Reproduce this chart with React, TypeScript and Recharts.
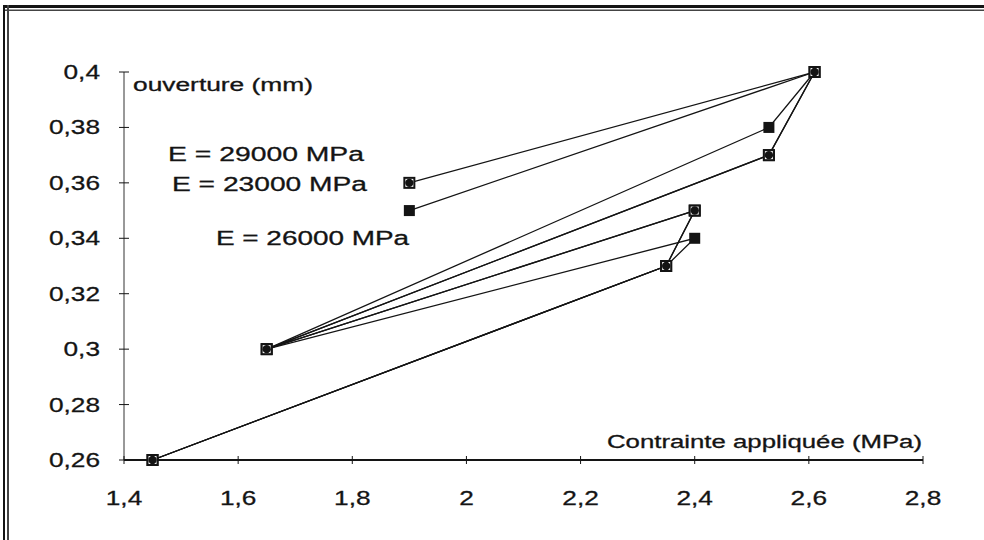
import { Scatter, ScatterChart, XAxis, YAxis } from "recharts";

// applied stress (MPa) / crack opening (mm), in loading order
const stress29000 = [1.45, 2.35, 2.4, 1.65, 2.53, 2.61, 1.9];
const opening29000 = [0.26, 0.33, 0.35, 0.3, 0.37, 0.4, 0.36];

const stress23000 = [1.45, 2.35, 2.4, 1.65, 2.53, 2.61, 1.9];
const opening23000 = [0.26, 0.33, 0.34, 0.3, 0.38, 0.4, 0.35];

const stress26000 = [1.45, 2.35, 2.4, 1.65, 2.53, 2.61];
const opening26000 = [0.26, 0.33, 0.35, 0.3, 0.37, 0.4];

const xTicks = [1.4, 1.6, 1.8, 2, 2.2, 2.4, 2.6, 2.8];
const yTicks = [0.26, 0.28, 0.3, 0.32, 0.34, 0.36, 0.38, 0.4];

const FONT = "'Liberation Sans', Arial, sans-serif";
const INK = "#141414";

const toPoints = (xs: number[], ys: number[]) => xs.map((x, i) => ({ x, y: ys[i] }));

const fmt = (v: number) => String(v).replace(".", ",");

const FilledSquare = (props: any) => {
  const { cx, cy } = props;
  if (cx == null || cy == null) return null;
  return <rect x={cx - 5.5} y={cy - 5.5} width={11} height={11} fill={INK} />;
};

const HatchedSquare = (props: any) => {
  const { cx, cy } = props;
  if (cx == null || cy == null) return null;
  return (
    <g>
      <rect x={cx - 6} y={cy - 6} width={12} height={12} fill={INK} />
      <rect x={cx - 4} y={cy - 4} width={8} height={8} fill="#fff" />
      <circle cx={cx} cy={cy} r={4.2} fill={INK} />
    </g>
  );
};

const YTick = (props: any) => {
  const { x, y, payload } = props;
  return (
    <g>
      <line x1={x - 5} x2={x + 5} y1={y} y2={y} stroke={INK} strokeWidth={1} />
      <g transform={`translate(${x - 24},${y + 7}) scale(1.25,1)`}>
        <text x={0} y={0} textAnchor="end" fontSize={21} fontFamily={FONT} fill={INK} stroke={INK} strokeWidth={0.3}>
          {fmt(payload.value)}
        </text>
      </g>
    </g>
  );
};

const XTick = (props: any) => {
  const { x, y, payload } = props;
  return (
    <g>
      <line x1={x} x2={x} y1={y - 4} y2={y + 4} stroke={INK} strokeWidth={1} />
      <g transform={`translate(${x},${y + 45}) scale(1.25,1)`}>
        <text x={0} y={0} textAnchor="middle" fontSize={21} fontFamily={FONT} fill={INK} stroke={INK} strokeWidth={0.3}>
          {fmt(payload.value)}
        </text>
      </g>
    </g>
  );
};

const App = () => {
  const lineStyle = { stroke: INK, strokeWidth: 1.3 };
  const label = { fontFamily: FONT, fill: INK, stroke: INK, strokeWidth: 0.3, lengthAdjust: "spacingAndGlyphs" } as any;
  return (
    <div style={{ position: "absolute", left: 0, top: 0, width: 984, height: 540, background: "#fff" }}>
      <ScatterChart width={984} height={540} margin={{ top: 72, right: 61, bottom: 50, left: 64 }}>
        <XAxis
          type="number"
          dataKey="x"
          domain={[1.4, 2.8]}
          ticks={xTicks}
          height={30}
          tickSize={0}
          tickMargin={0}
          tickLine={false}
          tick={<XTick />}
          axisLine={{ stroke: INK, strokeWidth: 2 }}
        />
        <YAxis
          type="number"
          dataKey="y"
          domain={[0.26, 0.4]}
          ticks={yTicks}
          width={60}
          tickSize={0}
          tickMargin={0}
          tickLine={false}
          tick={<YTick />}
          axisLine={{ stroke: "#333", strokeWidth: 1 }}
        />
        <Scatter
          name="E = 26000 MPa"
          data={toPoints(stress26000, opening26000)}
          line={lineStyle}
          lineType="joint"
          shape={<HatchedSquare />}
          isAnimationActive={false}
        />
        <Scatter
          name="E = 23000 MPa"
          data={toPoints(stress23000, opening23000)}
          line={lineStyle}
          lineType="joint"
          shape={<FilledSquare />}
          isAnimationActive={false}
        />
        <Scatter
          name="E = 29000 MPa"
          data={toPoints(stress29000, opening29000)}
          line={lineStyle}
          lineType="joint"
          shape={<HatchedSquare />}
          isAnimationActive={false}
        />
      </ScatterChart>

      {/* scanned frame + annotations */}
      <svg
        width={984}
        height={540}
        style={{ position: "absolute", left: 0, top: 0, pointerEvents: "none" }}
      >
        <rect x={3} y={5} width={981} height={3} fill={INK} />
        <rect x={3} y={9.5} width={981} height={1.5} fill="#444" />
        <rect x={3} y={5} width={2} height={535} fill={INK} />
        <rect x={7} y={5} width={2} height={535} fill="#444" />

        <text x={133} y={91} fontSize={18} textLength={180} {...label}>
          ouverture (mm)
        </text>
        <text x={607} y={448} fontSize={18} textLength={315} {...label}>
          Contrainte appliquée (MPa)
        </text>
        <text x={168} y={161} fontSize={20} textLength={196} {...label}>
          E = 29000 MPa
        </text>
        <text x={172} y={191} fontSize={20} textLength={195} {...label}>
          E = 23000 MPa
        </text>
        <text x={216} y={245} fontSize={20} textLength={193} {...label}>
          E = 26000 MPa
        </text>
      </svg>
    </div>
  );
};

export default App;
